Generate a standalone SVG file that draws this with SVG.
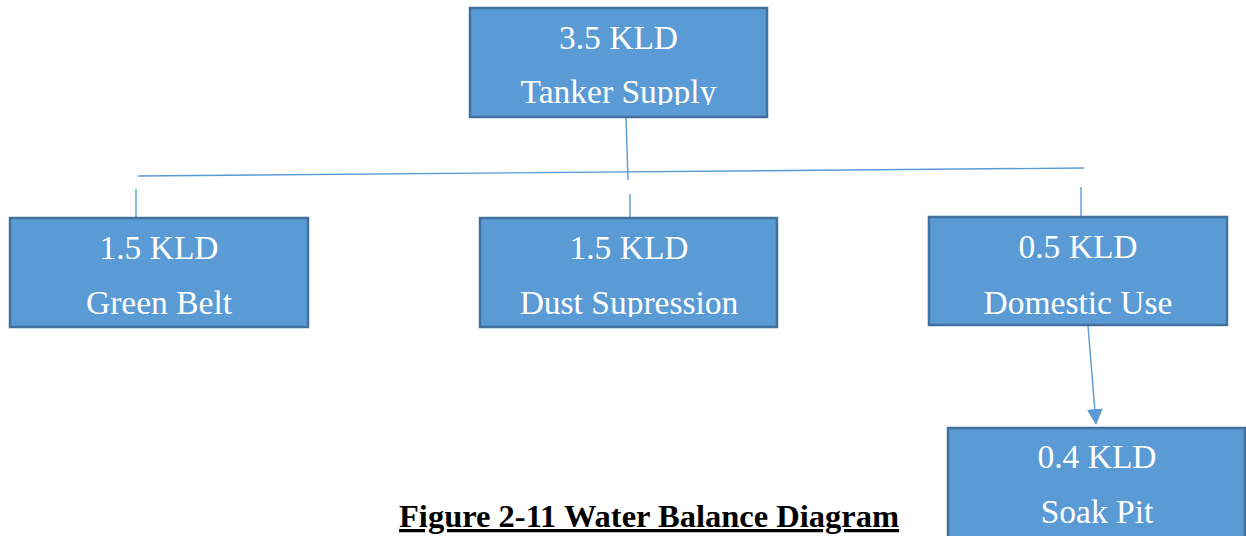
<svg xmlns="http://www.w3.org/2000/svg" width="1246" height="536" viewBox="0 0 1246 536">
<style>
.box{fill:#5B9BD5;stroke:#41719C;stroke-width:2.5}
.t{font-family:"Liberation Serif",serif;font-size:33.5px;fill:#FFFFFF;text-anchor:middle}
.c{stroke:#5B9BD5;stroke-width:1.4;fill:none}
.cap{font-family:"Liberation Serif",serif;font-size:32.5px;font-weight:bold;fill:#000000;text-decoration:underline}
</style>
<defs>
<marker id="ah" markerWidth="16" markerHeight="16" refX="15" refY="8" orient="auto" markerUnits="userSpaceOnUse">
<path d="M0,0 L16,8 L0,16 Z" fill="#5B9BD5"/>
</marker>
<clipPath id="c1"><rect x="470" y="8" width="297" height="97"/></clipPath>
<clipPath id="c2"><rect x="480" y="218" width="297" height="99"/></clipPath>
</defs>
<rect width="1246" height="536" fill="#FFFFFF"/>
<g id="connectors">
<line class="c" x1="626" y1="117" x2="628" y2="180"/>
<line class="c" x1="138" y1="176" x2="1084" y2="168"/>
<line class="c" x1="136" y1="189" x2="136" y2="218"/>
<line class="c" x1="630" y1="194" x2="630" y2="218"/>
<line class="c" x1="1081" y1="187" x2="1081" y2="217"/>
<line class="c" x1="1088" y1="326" x2="1096" y2="424" marker-end="url(#ah)"/>
</g>
<g id="tanker">
<rect class="box" x="470" y="8" width="297" height="109"/>
<text class="t" x="618.5" y="49">3.5 KLD</text>
<text class="t" x="618.5" y="103" clip-path="url(#c1)">Tanker Supply</text>
</g>
<g id="greenbelt">
<rect class="box" x="10" y="218" width="298" height="109"/>
<text class="t" x="159" y="259">1.5 KLD</text>
<text class="t" x="159" y="314">Green Belt</text>
</g>
<g id="dust">
<rect class="box" x="480" y="218" width="297" height="109"/>
<text class="t" x="629" y="259">1.5 KLD</text>
<text class="t" x="629" y="314" clip-path="url(#c2)">Dust Supression</text>
</g>
<g id="domestic">
<rect class="box" x="929" y="217" width="298" height="108"/>
<text class="t" x="1078" y="258">0.5 KLD</text>
<text class="t" x="1078" y="314">Domestic Use</text>
</g>
<g id="soakpit">
<rect class="box" x="948" y="428" width="297" height="120"/>
<text class="t" x="1097" y="468">0.4 KLD</text>
<text class="t" x="1097" y="523">Soak Pit</text>
</g>
<text class="cap" x="399" y="527">Figure 2-11 Water Balance Diagram</text>
</svg>
